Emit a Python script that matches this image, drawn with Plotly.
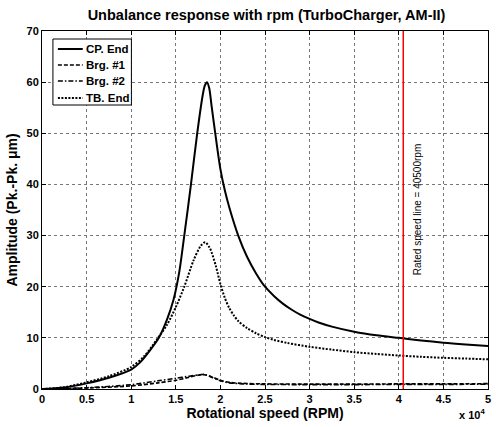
import plotly.graph_objects as go

# Data
rpm_cp = [0, 2500, 5000, 7500, 10000, 11000, 12000, 13100, 14000, 14750, 15400, 15950, 16700,
          17400, 18000, 18250, 18500, 18750, 19000, 19500, 20000, 20500, 21000, 22000, 23000,
          24000, 25000, 26000, 27000, 28000, 29000, 30000, 31000, 32500, 35000, 37500, 40000,
          42500, 45000, 47500, 50000]
cp_end = [0, 0.3, 1.1, 2.2, 3.8, 5.2, 7.3, 10, 13.5, 17.5, 23, 30, 40,
          50, 57.3, 59.3, 60, 58.8, 55.5, 49, 43, 38.8, 35.5, 30.0, 25.8,
          22.6, 20.0, 18.2, 16.7, 15.5, 14.5, 13.7, 13.0, 12.2, 11.2, 10.5, 10.0,
          9.5, 9.05, 8.7, 8.4]

rpm_tb = [0, 2500, 5000, 7500, 10000, 11500, 13000, 14000, 15000, 15950, 17000, 17800, 18300,
          18800, 19000, 19500, 20000, 20500, 21000, 21500, 22000, 23000, 24000, 25000, 26000,
          27500, 30000, 32500, 35000, 37500, 40000, 42500, 45000, 47500, 50000]
tb_end = [0, 0.35, 1.3, 2.5, 4.3, 6.5, 10, 12.5, 16, 20, 25.2, 28, 28.7,
          27.6, 26.8, 24, 20.5, 17.8, 15.8, 14.4, 13.3, 11.9, 10.9, 10.15, 9.6,
          9.0, 8.25, 7.7, 7.2, 6.85, 6.55, 6.3, 6.1, 5.95, 5.8]

rpm_brg = [0, 5000, 10000, 13000, 15000, 16500, 17500, 18200, 19000, 20000, 21000, 22500,
           25000, 30000, 35000, 40000, 45000, 50000]
brg1 = [0, 0.2, 0.6, 1.2, 1.7, 2.3, 2.7, 2.8, 2.4, 1.7, 1.3, 1.1,
        1.0, 0.95, 0.95, 1.0, 1.0, 1.05]
brg2 = [0, 0.25, 0.85, 1.6, 2.1, 2.5, 2.75, 2.85, 2.3, 1.6, 1.2, 1.0,
        0.9, 0.85, 0.85, 0.9, 0.9, 0.95]

rated_rpm = 40500
x_tick_vals = [0, 5000, 10000, 15000, 20000, 25000, 30000, 35000, 40000, 45000, 50000]
x_tick_text = ["0", "0.5", "1", "1.5", "2", "2.5", "3", "3.5", "4", "4.5", "5"]
y_tick_vals = [0, 10, 20, 30, 40, 50, 60, 70]

series_names = ["CP. End", "Brg. #1", "Brg. #2", "TB. End"]
series_dash = ["solid", "4px,2px", "5px,2px,1.5px,2px", "2px,1.5px"]
series_width = [2, 1.6, 1.6, 2]

FONT = "Liberation Sans, Arial, sans-serif"

# plot area geometry (pixels)
W, H = 496, 427
ML, MR, MT, MB = 42, 5, 31, 38
PW, PH = W - ML - MR, H - MT - MB


def px_x(p):
    return (p - ML) / PW


def px_y(p):
    return (H - MB - p) / PH


fig = go.Figure()
data = [(rpm_cp, cp_end), (rpm_brg, brg1), (rpm_brg, brg2), (rpm_tb, tb_end)]
for (xs, ys), name, dash, w in zip(data, series_names, series_dash, series_width):
    fig.add_trace(go.Scatter(x=xs, y=ys, mode="lines", name=name, showlegend=False,
                             line=dict(color="black", width=w, dash=dash,
                                       shape="spline", smoothing=0.8)))

fig.add_shape(type="line", xref="x", yref="y", x0=rated_rpm, x1=rated_rpm, y0=0, y1=70,
              line=dict(color="red", width=1.5))

fig.add_annotation(x=rated_rpm, y=35, xref="x", yref="y", xshift=14,
                   text="Rated speed line = 40500rpm", textangle=-90, showarrow=False,
                   font=dict(family=FONT, size=10, color="black"))

fig.add_annotation(x=1, y=0, xref="paper", yref="paper", xanchor="right", yanchor="top",
                   xshift=-1, yshift=-16,
                   text="x 10<sup>4</sup>", showarrow=False,
                   font=dict(family=FONT, size=11, color="black", weight="bold"))

# legend (box, samples, labels)
fig.add_shape(type="rect", xref="paper", yref="paper",
              x0=px_x(53), x1=px_x(132), y0=px_y(105), y1=px_y(39),
              line=dict(color="black", width=1), fillcolor="white", layer="above")
legend_rows = [49, 65, 81, 98]
for row, name, dash, w in zip(legend_rows, series_names, series_dash, series_width):
    fig.add_shape(type="line", xref="paper", yref="paper",
                  x0=px_x(58), x1=px_x(83), y0=px_y(row), y1=px_y(row),
                  line=dict(color="black", width=w, dash=dash), layer="above")
    fig.add_annotation(x=px_x(84), y=px_y(row), xref="paper", yref="paper",
                       xanchor="left", yanchor="middle", text=name, showarrow=False,
                       font=dict(family=FONT, size=11.5, color="black", weight="bold"))

axis_common = dict(showline=True, linecolor="black", linewidth=1, mirror="ticks",
                   ticks="inside", ticklen=4, tickcolor="black",
                   showgrid=True, gridcolor="#777777", griddash="dot", gridwidth=1,
                   zeroline=False,
                   tickfont=dict(family=FONT, size=11, color="black", weight="bold"))

fig.update_xaxes(range=[0, 50000], tickvals=x_tick_vals, ticktext=x_tick_text,
                 title=dict(text="Rotational speed (RPM)", standoff=1,
                            font=dict(family=FONT, size=14, color="black", weight="bold")),
                 **axis_common)
fig.update_yaxes(range=[0, 70], tickvals=y_tick_vals,
                 title=dict(text="Amplitude (Pk.-Pk. μm)", standoff=5,
                            font=dict(family=FONT, size=14, color="black", weight="bold")),
                 **axis_common)

fig.update_layout(
    width=W, height=H,
    margin=dict(l=ML, r=MR, t=MT, b=MB),
    paper_bgcolor="white", plot_bgcolor="white",
    title=dict(text="Unbalance response with rpm (TurboCharger, AM-II)",
               x=(ML + W - MR) / 2 / W, xanchor="center", y=1 - 15 / H, yanchor="middle",
               font=dict(family=FONT, size=14.5, color="black", weight="bold")),
    showlegend=False,
)

fig.write_html("out.html")
